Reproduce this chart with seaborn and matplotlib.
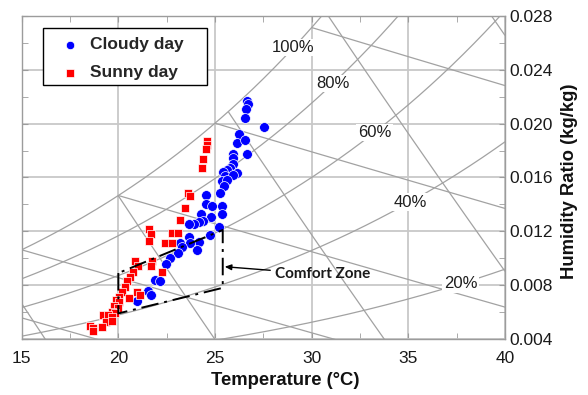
import numpy as np
import pandas as pd
import matplotlib
matplotlib.use("Agg")
import matplotlib.pyplot as plt
from matplotlib.patches import Rectangle
from matplotlib.ticker import MultipleLocator, FormatStrFormatter
import seaborn as sns

# Measured indoor air states: dry-bulb temperature (°C) and humidity ratio (kg/kg)
cloudy_temp = [26.68, 26.73, 26.60, 26.57, 27.53, 26.26, 26.14, 26.55, 25.93, 26.67,
               25.95, 25.92, 25.78, 25.64, 25.43, 26.12, 25.52, 25.95, 25.35, 25.61,
               25.47, 25.26, 24.53, 24.53, 24.83, 25.34, 25.34, 24.25, 24.77, 24.38,
               24.15, 23.91, 23.64, 25.20, 24.74, 23.68, 24.17, 23.71, 23.19, 23.31,
               24.08, 23.10, 22.67, 22.47, 21.90, 22.15, 21.53, 21.70, 20.95]
cloudy_w = [0.02169, 0.02143, 0.02109, 0.02040, 0.01975, 0.01920, 0.01859, 0.01875, 0.01776, 0.01773,
            0.01743, 0.01700, 0.01668, 0.01656, 0.01643, 0.01636, 0.01611, 0.01615, 0.01576, 0.01578,
            0.01537, 0.01483, 0.01470, 0.01403, 0.01386, 0.01385, 0.01327, 0.01329, 0.01303, 0.01275,
            0.01269, 0.01251, 0.01255, 0.01229, 0.01173, 0.01160, 0.01123, 0.01116, 0.01111, 0.01086,
            0.01061, 0.01037, 0.01004, 0.00957, 0.00842, 0.00833, 0.00759, 0.00727, 0.00682]

sunny_temp = [24.57, 24.57, 24.51, 24.36, 24.33, 23.62, 23.71, 23.45, 23.19, 21.60,
              21.67, 21.57, 22.79, 23.10, 22.40, 22.78, 20.86, 21.02, 21.73, 21.67,
              22.24, 20.74, 20.60, 20.46, 20.34, 20.17, 20.95, 21.12, 20.54, 20.05,
              19.90, 20.05, 19.80, 20.00, 19.66, 19.83, 19.22, 19.48, 19.66, 19.36,
              19.65, 19.14, 18.53, 18.71, 18.69]
sunny_w = [0.01874, 0.01845, 0.01810, 0.01735, 0.01673, 0.01487, 0.01466, 0.01373, 0.01284, 0.01215,
           0.01180, 0.01130, 0.01185, 0.01185, 0.01111, 0.01116, 0.00982, 0.00946, 0.00980, 0.00946,
           0.00900, 0.00900, 0.00863, 0.00831, 0.00790, 0.00751, 0.00751, 0.00727, 0.00702, 0.00714,
           0.00690, 0.00675, 0.00642, 0.00628, 0.00603, 0.00593, 0.00578, 0.00575, 0.00563, 0.00526,
           0.00530, 0.00491, 0.00500, 0.00478, 0.00459]

# Comfort zone outline (temperature, humidity ratio)
comfort_temp = [20.0, 20.0, 25.4, 25.4, 20.0]
comfort_w = [0.0089, 0.0059, 0.0078, 0.0121, 0.0089]

# Psychrometric background families
rh_levels = [20, 40, 60, 80, 100]
wet_bulb_temps = [10, 15, 20, 25, 30]
specific_volumes = [0.825, 0.850, 0.875, 0.900, 0.925]

P_ATM = 101.325  # kPa


def sat_pressure(t):
    return 0.61094 * np.exp(17.625 * t / (t + 243.04))


def ratio_at_rh(t, rh):
    pv = rh / 100.0 * sat_pressure(t)
    return 0.622 * pv / (P_ATM - pv)


def ratio_at_wet_bulb(t, twb):
    ws = ratio_at_rh(twb, 100)
    return ((2501 - 2.326 * twb) * ws - 1.006 * (t - twb)) / (2501 + 1.86 * t - 4.186 * twb)


def ratio_at_volume(t, v):
    return (v * P_ATM / (0.287042 * (t + 273.15)) - 1) / 1.6078


sns.set_style("white")
plt.rcParams["font.family"] = ["Liberation Sans", "DejaVu Sans"]

fig = plt.figure(figsize=(5.88, 3.95), dpi=100)
ax = fig.add_axes([0.0369, 0.1418, 0.8219, 0.8177])

line_kw = dict(color="#a2a2a2", lw=0.9, zorder=1, solid_capstyle="butt")
t_grid = np.linspace(5, 41, 3000)
for rh in rh_levels:
    ax.plot(t_grid, ratio_at_rh(t_grid, rh), **line_kw)
for twb in wet_bulb_temps:
    t = np.linspace(twb, 41, 400)
    ax.plot(t, ratio_at_wet_bulb(t, twb), **line_kw)
for v in specific_volumes:
    w = ratio_at_volume(t_grid, v)
    w = np.where(w <= ratio_at_rh(t_grid, 100), w, np.nan)
    ax.plot(t_grid, w, **line_kw)

# Relative humidity labels sitting on their curves
rh_label_temp = {100: 29.06, 80: 31.10, 60: 33.25, 40: 35.09, 20: 37.70}
for rh, t in rh_label_temp.items():
    ax.text(t, ratio_at_rh(t, rh), f"{rh}%", ha="center", va="center",
            fontsize=12, color="#1e1e1e", zorder=2,
            bbox=dict(boxstyle="square,pad=0.08", fc="white", ec="none"))

# Measured points
cloudy = pd.DataFrame({"Temperature": cloudy_temp, "Humidity": cloudy_w})
sunny = pd.DataFrame({"Temperature": sunny_temp, "Humidity": sunny_w})
sns.scatterplot(data=cloudy, x="Temperature", y="Humidity", ax=ax, marker="o",
                color="#0000ff", s=50, edgecolor="white", linewidth=0.5,
                label="Cloudy day", zorder=3)
sns.scatterplot(data=sunny, x="Temperature", y="Humidity", ax=ax, marker="s",
                color="#ff0000", s=36, edgecolor="white", linewidth=0.5,
                label="Sunny day", zorder=3)

# Comfort zone
ax.plot(comfort_temp, comfort_w, color="black", lw=1.4,
        linestyle=(0, (9, 3, 1.5, 3)), zorder=4)
ax.annotate("Comfort Zone", xy=(25.5, 0.00937), xytext=(28.1, 0.00880),
            ha="left", va="center", fontsize=11, fontweight="bold",
            family=["Lato", "DejaVu Sans"], color="#1a1a1a",
            arrowprops=dict(arrowstyle="-|>,head_length=0.35,head_width=0.15",
                            color="black", lw=1.0, shrinkA=1, shrinkB=0),
            zorder=5)

# Axes, grid and ticks
ax.set_xlim(15, 40)
ax.set_ylim(0.004, 0.028)
ax.xaxis.set_major_locator(MultipleLocator(5))
ax.xaxis.set_minor_locator(MultipleLocator(2.5))
ax.yaxis.set_major_locator(MultipleLocator(0.004))
ax.yaxis.set_minor_locator(MultipleLocator(0.002))
ax.yaxis.set_major_formatter(FormatStrFormatter("%.3f"))
ax.grid(True, which="major", color="#c8c8c8", lw=1.3, zorder=0)
ax.set_axisbelow(True)
for sp in ax.spines.values():
    sp.set_color("#9c9c9c")
    sp.set_linewidth(1.0)
ax.tick_params(which="both", direction="in", top=True, bottom=True, left=True, right=True,
               labelleft=False, labelright=True, color="#9c9c9c",
               labelsize=12.5, labelcolor="#1a1a1a")
ax.tick_params(axis="x", which="both", pad=9)
ax.tick_params(axis="y", which="both", pad=3)
ax.tick_params(which="minor", length=4)
ax.tick_params(which="major", length=4)

ax.set_xlabel("Temperature (°C)", fontsize=13.3, fontweight="bold", color="#111111")
ax.xaxis.set_label_coords(0.545, -0.103)
ax.yaxis.set_label_position("right")
ax.set_ylabel("Humidity Ratio (kg/kg)", fontsize=13.3, fontweight="bold", color="#111111")
ax.yaxis.set_label_coords(1.116, 0.488)

# Legend entries with a separately drawn frame
leg = ax.legend(loc="upper left", bbox_to_anchor=(0.071, 0.935), borderaxespad=0,
                borderpad=0, frameon=False, prop=dict(weight="bold", size=12.5),
                handletextpad=0.35, labelspacing=0.74, markerscale=0.85, handlelength=1.6)
leg.set_zorder(6)
ax.add_patch(Rectangle((0.0441, 0.7864), 0.3393, 0.1764, transform=ax.transAxes,
                       facecolor="white", edgecolor="black", lw=1.0, zorder=5.5))

fig.savefig("out.png", dpi=100)
